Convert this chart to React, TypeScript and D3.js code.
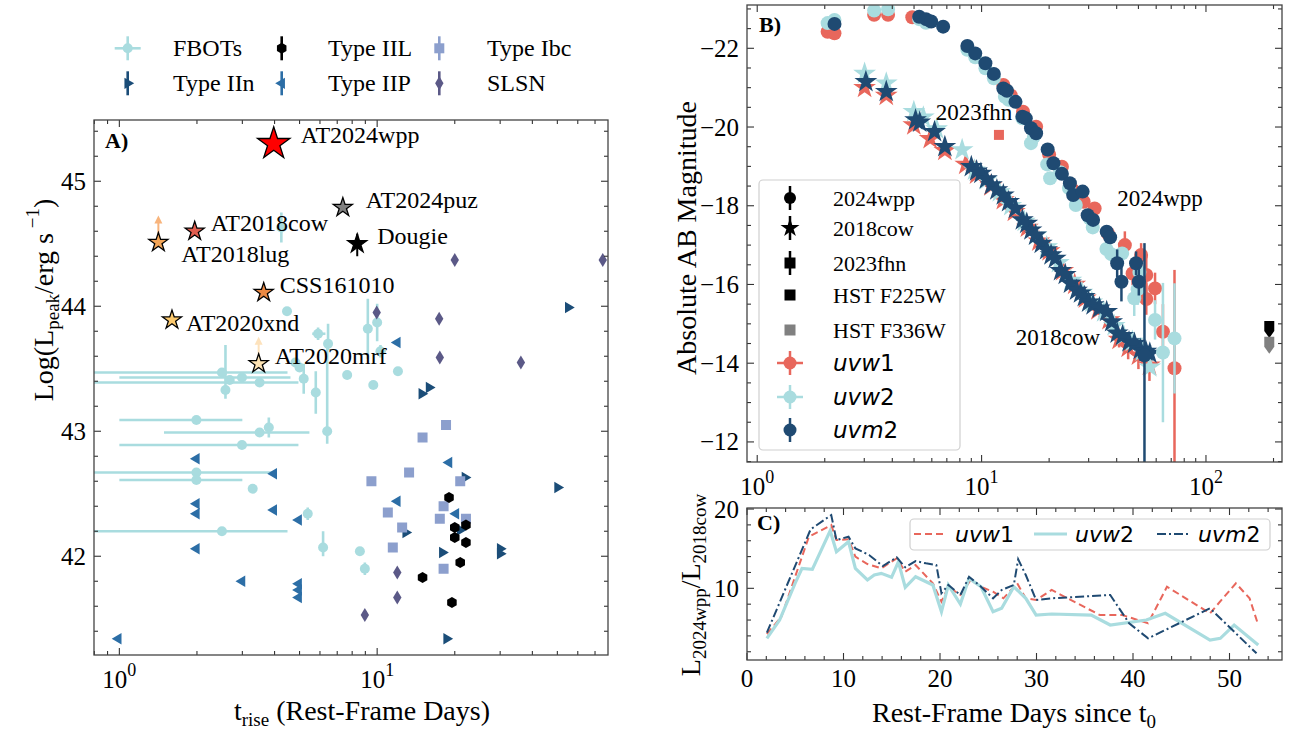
import React from "react";
import * as d3 from "d3";

// ================= Panel A data: peak luminosity vs rise time =================
const fbotT = [4.25, 4.47, 10.0, 9.2, 6.45, 5.9, 10.3, 4.82, 5.0, 2.5, 2.68, 2.99, 3.5, 2.58, 5.19, 5.78, 7.65, 9.66, 12.04, 6.4, 1.99, 3.5, 3.8, 2.99, 1.99, 1.99, 3.29, 5.38, 2.5, 6.17, 8.57, 8.96];
const fbotL = [44.63, 43.96, 43.87, 43.82, 43.70, 43.78, 43.64, 43.55, 43.51, 43.47, 43.41, 43.43, 43.39, 43.33, 43.42, 43.31, 43.45, 43.37, 43.48, 43.00, 43.09, 42.99, 43.03, 42.89, 42.67, 42.61, 42.54, 42.34, 42.20, 42.07, 42.04, 41.90];
const fbotTLo = [null, null, null, null, null, 5.6, 9.9, null, null, 0.5, null, 1.0, 0.5, null, null, null, null, null, null, null, 1.0, 1.49, null, 1.0, 0.5, 1.0, null, null, 0.5, null, null, null];
const fbotTHi = [null, null, null, null, null, 6.3, 10.8, null, null, 4.49, null, 4.61, 4.95, null, null, null, null, null, null, null, 3.0, 5.46, null, 4.95, 4.03, 3.0, null, null, 4.49, null, null, null];
const fbotLDn = [0.12, 0, 0.15, 0.24, 0.05, 0.05, 0.05, 0, 0, 0, 0, 0, 0, 0.07, 0.12, 0.17, 0, 0, 0, 0.1, 0, 0, 0.08, 0, 0, 0, 0, 0.05, 0, 0.07, 0, 0.05];
const fbotLUp = [0.12, 0, 0.15, 0.24, 0.16, 0.05, 0.05, 0, 0, 0, 0, 0, 0, 0.36, 0.12, 0.17, 0, 0, 0, 0.71, 0, 0, 0.08, 0, 0, 0, 0, 0.05, 0, 0.13, 0, 0.05];

const iipT = [1.99, 3.97, 1.99, 1.99, 3.97, 4.96, 1.99, 2.99, 4.96, 4.96, 4.96, 0.99, 11.97, 19.0, 20.2, 11.97];
const iipL = [42.78, 42.66, 42.42, 42.34, 42.37, 42.29, 42.06, 41.80, 41.78, 41.73, 41.67, 41.34, 42.44, 42.75, 42.34, 43.71];

const iinT = [55.1, 15.9, 14.9, 21.9, 50.1, 12.9, 17.9, 30.0, 30.0, 18.6, 21.0];
const iinL = [43.99, 43.35, 43.30, 42.63, 42.55, 42.19, 42.03, 42.06, 42.02, 41.34, 42.21];

const ibcT = [18.5, 15.0, 13.3, 9.5, 21.0, 18.1, 11.0, 17.5, 22.1, 12.5, 11.5, 18.1];
const ibcL = [43.05, 42.95, 42.67, 42.60, 42.60, 42.40, 42.35, 42.30, 42.30, 42.23, 42.07, 41.90];

const iilT = [21.0, 19.0, 20.0, 22.1, 20.0, 22.1, 15.0, 19.5];
const iilL = [41.95, 42.47, 42.23, 42.25, 42.15, 42.11, 41.83, 41.63];

const slsnT = [20.0, 75.0, 9.96, 17.4, 17.5, 36.1, 11.97, 11.97, 8.96];
const slsnL = [44.37, 44.37, 43.95, 43.90, 43.59, 43.55, 41.87, 41.67, 41.53];

const namedNames = ["AT2024puz", "AT2018cow", "AT2018lug", "Dougie", "CSS161010", "AT2020xnd", "AT2020mrf", "AT2024wpp"];
const namedT = [7.36, 1.96, 1.417, 8.37, 3.63, 1.60, 3.47, 3.97];
const namedL = [44.79, 44.60, 44.51, 44.50, 44.11, 43.89, 43.54, 45.30];
const namedLowerLimit = [false, false, true, false, false, false, true, false];

const legendA = ["FBOTs", "Type IIn", "Type IIL", "Type IIP", "Type Ibc", "SLSN"];

// ================= Panel B data: UV light curves =================
const wppW1T = [2.06, 2.21, 3.32, 3.83, 4.91, 12.5, 13.5, 15.3, 17.5, 20.0, 22.8, 25.5, 28.5, 31.9, 36.5, 43.5, 47.1, 51.4, 54.2, 54.2, 59.3, 64.3, 72.4];
const wppW1 = [-22.42, -22.38, -22.85, -22.85, -22.79, -21.07, -20.80, -20.39, -20.01, -19.30, -18.99, -18.40, -18.10, -17.93, -17.30, -17.00, -16.28, -16.75, -16.24, -15.63, -15.90, -14.80, -13.87];
const wppW1Err = [0, 0, 0, 0, 0, 0, 0, 0, 0, 0, 0, 0, 0, 0.1, 0.15, 0.35, 0.3, 0.3, 0.5, 0.4, 0.4, 0.7, 2.5];

const wppW2T = [2.06, 2.21, 3.32, 3.83, 5.27, 5.65, 8.64, 9.37, 10.4, 11.34, 12.7, 13.2, 15.2, 16.6, 17.1, 19.6, 20.2, 22.4, 24.5, 26.3, 30.3, 31.3, 36.0, 37.8, 42.3, 47.9, 49.6, 50.5, 59.3, 64.3, 72.4];
const wppW2 = [-22.64, -22.72, -22.96, -22.99, -22.74, -22.65, -21.96, -21.77, -21.49, -21.24, -20.77, -20.69, -20.22, -19.59, -19.75, -19.05, -18.70, -18.85, -18.45, -18.02, -17.68, -17.45, -16.90, -16.77, -16.79, -15.65, -15.88, -16.32, -15.10, -14.27, -14.63];
const wppW2Err = [0, 0, 0, 0, 0, 0, 0, 0, 0, 0, 0, 0, 0, 0, 0, 0, 0, 0, 0, 0, 0, 0, 0, 0.1, 0.15, 0.45, 0.4, 0.3, 0.5, 1.77, 1.4];

const wppM2T = [2.21, 5.27, 5.65, 5.96, 6.74, 8.64, 9.37, 10.4, 11.34, 12.5, 12.97, 14.16, 15.2, 15.74, 16.6, 17.5, 19.7, 20.9, 22.8, 24.75, 25.6, 28.2, 29.7, 31.4, 36.1, 37.4, 40.2, 42.0, 48.8, 50.2, 53.2];
const wppM2 = [-22.62, -22.80, -22.74, -22.68, -22.55, -22.06, -21.87, -21.62, -21.35, -20.98, -20.92, -20.64, -20.26, -20.22, -19.97, -19.84, -19.43, -19.08, -18.81, -18.57, -18.27, -18.36, -17.76, -17.64, -17.34, -17.20, -16.54, -16.07, -16.54, -16.07, -14.20];
const wppM2Err = [0, 0, 0, 0, 0, 0, 0, 0, 0, 0, 0, 0, 0, 0, 0, 0, 0, 0, 0, 0, 0, 0, 0, 0, 0, 0.15, 0.35, 0.5, 0.3, 0.35, 2.85];

const cowW1T = [3.01, 3.76, 4.99, 5.9, 6.86, 8.5, 9.5, 11.0, 12.5, 14.0, 16.0, 18.0, 20.0, 23.0, 26.0, 29.0, 33.0, 37.0, 41.0, 45.0, 50.0, 56.0];
const cowW1 = [-21.00, -20.80, -20.05, -19.70, -19.40, -19.05, -18.80, -18.50, -18.15, -17.85, -17.45, -17.10, -16.85, -16.35, -16.00, -15.65, -15.35, -15.10, -14.60, -14.40, -14.20, -13.95];
const cowW1Err = [0, 0, 0, 0, 0, 0, 0, 0, 0, 0, 0, 0, 0, 0, 0, 0, 0, 0, 0.2, 0.3, 0.35, 0.4];

const cowW2T = [3.01, 3.76, 4.99, 5.5, 6.3, 8.19, 9.3, 10.5, 12.0, 13.5, 15.5, 17.5, 19.5, 22.0, 25.0, 28.0, 31.0, 35.0, 39.0, 43.0, 47.0, 52.0, 56.2];
const cowW2 = [-21.36, -21.11, -20.39, -20.25, -19.95, -19.42, -18.90, -18.65, -18.35, -18.00, -17.60, -17.25, -16.95, -16.55, -16.10, -15.80, -15.55, -15.30, -14.95, -14.70, -14.55, -14.30, -13.90];

const cowM2T = [3.05, 3.76, 5.08, 5.3, 6.17, 6.86, 9.0, 9.5, 9.93, 10.5, 11.06, 11.7, 12.5, 13.2, 14.16, 15.2, 15.9, 16.6, 17.4, 18.45, 19.5, 20.4, 21.3, 22.5, 23.6, 24.9, 26.5, 27.6, 28.7, 30.0, 31.4, 33.5, 36.1, 38.0, 40.2, 42.5, 45.4, 48.0, 51.0, 54.0, 56.2];
const cowM2 = [-21.15, -20.90, -20.18, -20.12, -19.88, -19.50, -18.99, -18.88, -18.82, -18.68, -18.53, -18.40, -18.27, -18.10, -17.93, -17.64, -17.55, -17.38, -17.25, -17.04, -16.88, -16.75, -16.66, -16.35, -16.25, -16.03, -15.85, -15.78, -15.69, -15.55, -15.48, -15.40, -15.31, -15.05, -14.76, -14.70, -14.54, -14.50, -14.35, -14.30, -14.25];

const fhnT = [11.95];
const fhnMag = [-19.80];

const hstT = [191.5, 191.5];
const hstMag = [-14.87, -14.47];

const legendB = ["2024wpp", "2018cow", "2023fhn", "HST F225W", "HST F336W", "uvw1", "uvw2", "uvm2"];

// ================= Panel C data: luminosity ratio =================
const ratioW1Day = [2.06, 3.56, 6.41, 8.73, 9.27, 10.52, 11.23, 12.48, 13.91, 15.51, 16.40, 17.47, 19.26, 20.15, 20.86, 22.11, 23.18, 24.25, 25.50, 26.57, 28.0, 28.89, 29.96, 31.57, 36.57, 38.88, 41.56, 43.52, 47.98, 50.66, 52.08, 52.98];
const ratioW1 = [4.24, 6.4, 16.5, 17.98, 16.09, 16.18, 13.99, 13.06, 12.52, 13.78, 12.09, 12.94, 10.63, 8.31, 10.2, 9.16, 11.05, 10.2, 9.57, 8.74, 10.63, 8.74, 8.53, 9.79, 6.63, 6.63, 5.59, 10.2, 6.85, 10.63, 8.74, 5.37];

const ratioW2Day = [2.06, 3.38, 4.98, 5.70, 6.77, 8.62, 9.27, 10.52, 11.23, 12.48, 13.19, 13.91, 14.98, 15.69, 16.40, 17.47, 19.26, 20.15, 20.86, 22.11, 23.01, 24.25, 25.50, 26.39, 27.65, 28.89, 29.96, 31.57, 35.67, 37.64, 41.38, 43.34, 47.98, 49.05, 50.48, 52.98];
const ratioW2 = [3.69, 6.0, 10.63, 12.52, 12.39, 17.26, 14.62, 15.88, 12.52, 11.05, 11.68, 11.89, 11.39, 13.35, 10.13, 11.46, 10.42, 7.05, 10.42, 8.02, 11.26, 10.2, 7.05, 7.48, 10.2, 8.74, 6.63, 6.76, 6.63, 5.37, 6.0, 6.85, 3.48, 3.69, 5.37, 2.85];

const ratioM2Day = [2.06, 6.59, 8.73, 9.27, 10.52, 11.23, 12.65, 14.08, 15.51, 16.40, 17.47, 18.55, 19.62, 20.15, 20.86, 22.11, 23.01, 24.25, 25.50, 26.39, 27.65, 28.1, 28.89, 29.96, 31.57, 37.64, 39.6, 41.56, 47.98, 52.8];
const ratioM2 = [4.4, 17.44, 19.24, 16.09, 16.51, 15.04, 14.2, 12.81, 13.91, 12.65, 13.44, 13.15, 12.94, 9.37, 10.42, 9.16, 11.46, 10.2, 8.74, 9.79, 10.42, 13.66, 11.68, 8.53, 8.74, 9.16, 5.59, 3.69, 7.48, 1.8];

const legendC = ["uvw1", "uvw2", "uvm2"];

// ================= styling =================
const SERIF = "'Liberation Serif', 'Times New Roman', serif";
const MATH = "'DejaVu Sans', sans-serif";
const C_FBOT = "#a9dcdf";
const C_IIN = "#1b4d78";
const C_IIP = "#2c6ea6";
const C_IBC = "#8c9fcd";
const C_IIL = "#000000";
const C_SLSN = "#5b5987";
const C_W1 = "#e8675c";
const C_W2 = "#a9dcdf";
const C_M2 = "#1f4a72";
const namedColors: Record<string, string> = {
  AT2024wpp: "#ff0000",
  AT2024puz: "#808080",
  AT2018cow: "#e15d4f",
  AT2018lug: "#f5a658",
  Dougie: "#000000",
  CSS161010: "#eb8944",
  AT2020xnd: "#fbc96e",
  AT2020mrf: "#fde3b4",
};
const arrowColors: Record<string, string> = { AT2018lug: "#f8b47c", AT2020mrf: "#fde2bc" };
const namedLabelOffset: Record<string, [number, number]> = {
  AT2024wpp: [27, -1],
  AT2024puz: [23, 0],
  AT2018cow: [16, 0],
  AT2018lug: [23, 19],
  Dougie: [20, 0],
  CSS161010: [16, 0],
  AT2020xnd: [14, 11],
  AT2020mrf: [16, 0],
};

// ================= scales =================
const boxA = { x0: 94, x1: 608, y0: 120, y1: 655 };
const boxB = { x0: 747, x1: 1282, y0: 5, y1: 462 };
const boxC = { x0: 747, x1: 1282, y0: 508, y1: 660 };

const xA = d3.scaleLog().domain([0.7974, 78.6]).range([boxA.x0, boxA.x1]);
const yA = d3.scaleLinear().domain([41.21, 45.49]).range([boxA.y1, boxA.y0]);
const xB = d3.scaleLog().domain([0.9005, 218.2]).range([boxB.x0, boxB.x1]);
const yB = d3.scaleLinear().domain([-23.1, -11.49]).range([boxB.y0, boxB.y1]);
const xC = d3.scaleLinear().domain([0, 55.44]).range([boxC.x0, boxC.x1]);
const yC = d3.scaleLinear().domain([0.96, 20.13]).range([boxC.y1, boxC.y0]);

// ================= marker shapes =================
function starPath(cx: number, cy: number, R: number) {
  const r = R * 0.382;
  const pts: string[] = [];
  for (let i = 0; i < 10; i++) {
    const a = -Math.PI / 2 + (i * Math.PI) / 5;
    const rr = i % 2 === 0 ? R : r;
    pts.push(`${(cx + rr * Math.cos(a)).toFixed(2)},${(cy + rr * Math.sin(a)).toFixed(2)}`);
  }
  return "M" + pts.join("L") + "Z";
}
function hexPath(cx: number, cy: number, r: number) {
  const pts: string[] = [];
  for (let i = 0; i < 6; i++) {
    const a = -Math.PI / 2 + (i * Math.PI) / 3;
    pts.push(`${(cx + r * Math.cos(a)).toFixed(2)},${(cy + r * Math.sin(a)).toFixed(2)}`);
  }
  return "M" + pts.join("L") + "Z";
}
function triPath(cx: number, cy: number, r: number, dir: number) {
  const h = r * 0.866;
  return `M${cx + dir * r},${cy}L${cx - (dir * r) / 2},${cy - h}L${cx - (dir * r) / 2},${cy + h}Z`;
}
function diamondPath(cx: number, cy: number, w: number, h: number) {
  return `M${cx},${cy - h}L${cx + w},${cy}L${cx},${cy + h}L${cx - w},${cy}Z`;
}
function downArrowSquare(cx: number, cy: number, s: number) {
  return `M${cx - s / 2},${cy - s / 2}L${cx + s / 2},${cy - s / 2}L${cx + s / 2},${cy + s / 2}L${cx},${cy + s * 1.2}L${cx - s / 2},${cy + s / 2}Z`;
}

// ================= ticks =================
type Tick = { v: number; major: boolean };
function logTicks(lo: number, hi: number): Tick[] {
  const out: Tick[] = [];
  for (let e = -1; e <= 3; e++) {
    for (let k = 1; k <= 9; k++) {
      const v = k * Math.pow(10, e);
      if (v >= lo && v <= hi) out.push({ v, major: k === 1 });
    }
  }
  return out;
}
function linTicks(lo: number, hi: number, minorStep: number, majorStep: number): Tick[] {
  const out: Tick[] = [];
  const start = Math.ceil(lo / minorStep - 1e-9);
  const end = Math.floor(hi / minorStep + 1e-9);
  for (let i = start; i <= end; i++) {
    const v = +(i * minorStep).toFixed(6);
    const m = Math.abs(v / majorStep - Math.round(v / majorStep)) < 1e-6;
    out.push({ v, major: m });
  }
  return out;
}

function Frame({ box, xs, ys, xScale, yScale }: any) {
  const els: any[] = [];
  xs.forEach((t: Tick, i: number) => {
    const x = xScale(t.v);
    const L = t.major ? 7 : 4;
    els.push(<line key={"xb" + i} x1={x} x2={x} y1={box.y1} y2={box.y1 - L} />);
    els.push(<line key={"xt" + i} x1={x} x2={x} y1={box.y0} y2={box.y0 + L} />);
  });
  ys.forEach((t: Tick, i: number) => {
    const y = yScale(t.v);
    const L = t.major ? 7 : 4;
    els.push(<line key={"yl" + i} x1={box.x0} x2={box.x0 + L} y1={y} y2={y} />);
    els.push(<line key={"yr" + i} x1={box.x1} x2={box.x1 - L} y1={y} y2={y} />);
  });
  return (
    <g stroke="#333" strokeWidth={1.1}>
      {els}
      <rect x={box.x0} y={box.y0} width={box.x1 - box.x0} height={box.y1 - box.y0} fill="none" stroke="#444" strokeWidth={1.3} />
    </g>
  );
}

function Pow10Label({ x, y, e }: { x: number; y: number; e: number }) {
  return (
    <text x={x} y={y} textAnchor="middle" fontFamily={SERIF} fontSize={25} fill="#000">
      <tspan>10</tspan>
      <tspan dy={-12} fontSize={18}>{e}</tspan>
    </text>
  );
}

function MathLabel({ x, y, name, size, anchor }: any) {
  const letters = name.slice(0, 3);
  const digit = name.slice(3);
  return (
    <text x={x} y={y} fontFamily={MATH} fontSize={size} textAnchor={anchor || "start"} fill="#000">
      <tspan fontStyle="italic">{letters}</tspan>
      <tspan>{digit}</tspan>
    </text>
  );
}

// ================= Panel A =================
function PanelA() {
  const xt = logTicks(0.7974, 78.6);
  const yt = linTicks(41.21, 45.49, 0.2, 1);
  const eb = 2.6;
  return (
    <g>
      <defs>
        <clipPath id="clipA">
          <rect x={boxA.x0} y={boxA.y0} width={boxA.x1 - boxA.x0} height={boxA.y1 - boxA.y0} />
        </clipPath>
      </defs>
      <g clipPath="url(#clipA)">
        {fbotT.map((t, i) => {
          const cx = xA(t);
          const cy = yA(fbotL[i]);
          return (
            <g key={"fb" + i} stroke={C_FBOT} strokeWidth={eb}>
              {fbotTLo[i] != null && <line x1={xA(fbotTLo[i] as number)} x2={xA(fbotTHi[i] as number)} y1={cy} y2={cy} />}
              {(fbotLUp[i] > 0 || fbotLDn[i] > 0) && <line x1={cx} x2={cx} y1={yA(fbotL[i] + fbotLUp[i])} y2={yA(fbotL[i] - fbotLDn[i])} />}
              <circle cx={cx} cy={cy} r={5} fill={C_FBOT} stroke="none" />
            </g>
          );
        })}
        {iipT.map((t, i) => (
          <path key={"iip" + i} d={triPath(xA(t), yA(iipL[i]), 6.5, -1)} fill={C_IIP} />
        ))}
        {iinT.map((t, i) => (
          <path key={"iin" + i} d={triPath(xA(t), yA(iinL[i]), 6.5, 1)} fill={C_IIN} />
        ))}
        {ibcT.map((t, i) => (
          <rect key={"ibc" + i} x={xA(t) - 5} y={yA(ibcL[i]) - 5} width={10} height={10} fill={C_IBC} />
        ))}
        {iilT.map((t, i) => (
          <path key={"iil" + i} d={hexPath(xA(t), yA(iilL[i]), 5.5)} fill={C_IIL} />
        ))}
        {slsnT.map((t, i) => (
          <path key={"sl" + i} d={diamondPath(xA(t), yA(slsnL[i]), 4.2, 7)} fill={C_SLSN} />
        ))}
        {namedNames.map((n, i) => {
          const cx = xA(namedT[i]);
          const cy = yA(namedL[i]);
          const R = n === "AT2024wpp" ? 17 : 10;
          return (
            <g key={"nm" + i}>
              {namedLowerLimit[i] && (
                <g stroke={arrowColors[n]} fill={arrowColors[n]} strokeWidth={2}>
                  <line x1={cx} x2={cx} y1={cy - 8} y2={cy - 22} />
                  <path d={`M${cx - 4},${cy - 19}L${cx + 4},${cy - 19}L${cx},${cy - 27}Z`} stroke="none" />
                </g>
              )}
              {n === "Dougie" && <line x1={cx} x2={cx} y1={yA(namedL[i] + 0.08)} y2={yA(namedL[i] - 0.1)} stroke="#000" strokeWidth={2} />}
              <path d={starPath(cx, cy, R)} fill={namedColors[n]} stroke="#000" strokeWidth={1.3} />
            </g>
          );
        })}
      </g>
      {namedNames.map((n, i) => (
        <text
          key={"nl" + i}
          x={xA(namedT[i]) + namedLabelOffset[n][0]}
          y={yA(namedL[i]) + namedLabelOffset[n][1]}
          fontFamily={SERIF}
          fontSize={24}
          fill="#000"
        >
          {n}
        </text>
      ))}
      <Frame box={boxA} xs={xt} ys={yt} xScale={xA} yScale={yA} />
      <text x={105} y={148} fontFamily={SERIF} fontSize={22} fontWeight="bold">A)</text>
      <Pow10Label x={xA(1)} y={688} e={0} />
      <Pow10Label x={xA(10)} y={688} e={1} />
      {[42, 43, 44, 45].map((v) => (
        <text key={"ya" + v} x={boxA.x0 - 8} y={yA(v) + 8.5} textAnchor="end" fontFamily={SERIF} fontSize={25}>
          {v}
        </text>
      ))}
      <text x={362} y={720} textAnchor="middle" fontFamily={SERIF} fontSize={28}>
        <tspan>t</tspan>
        <tspan fontSize={19} dy={6}>rise</tspan>
        <tspan dy={-6}> (Rest-Frame Days)</tspan>
      </text>
      <text transform="translate(53,300) rotate(-90)" textAnchor="middle" fontFamily={SERIF} fontSize={28}>
        <tspan>Log(L</tspan>
        <tspan fontSize={19} dy={6}>peak</tspan>
        <tspan dy={-6}>/erg s</tspan>
        <tspan fontSize={19} dy={-14}> −1</tspan>
        <tspan dy={14}>)</tspan>
      </text>
      <LegendA />
    </g>
  );
}

function LegendA() {
  const cols = [127.7, 281.7, 439.3];
  const textX = [173, 328, 487];
  const rows = [48.3, 83.3];
  const items = legendA.map((name, i) => ({ name, col: Math.floor(i / 2), row: i % 2 }));
  return (
    <g>
      {items.map((it, i) => {
        const cx = cols[it.col];
        const cy = rows[it.row];
        let marker: any = null;
        if (it.name === "FBOTs") {
          marker = (
            <g stroke={C_FBOT} strokeWidth={2.6}>
              <line x1={cx - 13} x2={cx + 13} y1={cy} y2={cy} />
              <line x1={cx} x2={cx} y1={cy - 12} y2={cy + 12} />
              <circle cx={cx} cy={cy} r={5} fill={C_FBOT} stroke="none" />
            </g>
          );
        } else {
          const col: Record<string, string> = { "Type IIn": C_IIN, "Type IIL": C_IIL, "Type IIP": C_IIP, "Type Ibc": C_IBC, SLSN: C_SLSN };
          const c = col[it.name];
          let shape: any;
          if (it.name === "Type IIn") shape = <path d={triPath(cx, cy, 6.5, 1)} fill={c} />;
          else if (it.name === "Type IIP") shape = <path d={triPath(cx, cy, 6.5, -1)} fill={c} />;
          else if (it.name === "Type IIL") shape = <path d={hexPath(cx, cy, 5.5)} fill={c} />;
          else if (it.name === "Type Ibc") shape = <rect x={cx - 5} y={cy - 5} width={10} height={10} fill={c} />;
          else shape = <path d={diamondPath(cx, cy, 4.2, 7)} fill={c} />;
          marker = (
            <g>
              <line x1={cx} x2={cx} y1={cy - 12} y2={cy + 12} stroke={c} strokeWidth={2.6} />
              {shape}
            </g>
          );
        }
        return (
          <g key={"la" + i}>
            {marker}
            <text x={textX[it.col]} y={cy + 8} fontFamily={SERIF} fontSize={24}>
              {it.name}
            </text>
          </g>
        );
      })}
    </g>
  );
}

// ================= Panel B =================
function Circles({ ts, ms, errs, color, r }: any) {
  return (
    <g>
      {ts.map((t: number, i: number) => {
        const cx = xB(t);
        const cy = yB(ms[i]);
        return (
          <g key={i}>
            {errs[i] > 0 && <line x1={cx} x2={cx} y1={yB(ms[i] - errs[i])} y2={yB(ms[i] + errs[i])} stroke={color} strokeWidth={2.5} />}
            <circle cx={cx} cy={cy} r={r} fill={color} />
          </g>
        );
      })}
    </g>
  );
}
function Stars({ ts, ms, errs, color, R }: any) {
  return (
    <g>
      {ts.map((t: number, i: number) => {
        const cx = xB(t);
        const cy = yB(ms[i]);
        return (
          <g key={i}>
            {errs && errs[i] > 0 && <line x1={cx} x2={cx} y1={yB(ms[i] - errs[i])} y2={yB(ms[i] + errs[i])} stroke={color} strokeWidth={2.5} />}
            <path d={starPath(cx, cy, R)} fill={color} />
          </g>
        );
      })}
    </g>
  );
}

function PanelB() {
  const xt = logTicks(0.9005, 218.2);
  const yt = linTicks(-23.1, -11.49, 0.5, 2);
  return (
    <g>
      <defs>
        <clipPath id="clipB">
          <rect x={boxB.x0} y={boxB.y0} width={boxB.x1 - boxB.x0} height={boxB.y1 - boxB.y0} />
        </clipPath>
      </defs>
      <g clipPath="url(#clipB)">
        <Stars ts={cowW1T} ms={cowW1} errs={cowW1Err} color={C_W1} R={12} />
        <Stars ts={cowW2T} ms={cowW2} color={C_W2} R={12} />
        <Stars ts={cowM2T} ms={cowM2} color={C_M2} R={12} />
        <Circles ts={wppW1T} ms={wppW1} errs={wppW1Err} color={C_W1} r={7} />
        <Circles ts={wppW2T} ms={wppW2} errs={wppW2Err} color={C_W2} r={7} />
        <Circles ts={wppM2T} ms={wppM2} errs={wppM2Err} color={C_M2} r={7} />
        {fhnT.map((t, i) => (
          <rect key={"fhn" + i} x={xB(t) - 5} y={yB(fhnMag[i]) - 5} width={10} height={10} fill={C_W1} />
        ))}
        {hstT.map((t, i) => (
          <path key={"hst" + i} d={downArrowSquare(xB(t), yB(hstMag[i]) - 3, 10)} fill={i === 0 ? "#000" : "#808080"} />
        ))}
      </g>
      <text x={974} y={120} textAnchor="middle" fontFamily={SERIF} fontSize={23}>2023fhn</text>
      <text x={1160} y={206} textAnchor="middle" fontFamily={SERIF} fontSize={23}>2024wpp</text>
      <text x={1058} y={345} textAnchor="middle" fontFamily={SERIF} fontSize={23}>2018cow</text>
      <LegendB />
      <Frame box={boxB} xs={xt} ys={yt} xScale={xB} yScale={yB} />
      <text x={759} y={32} fontFamily={SERIF} fontSize={22} fontWeight="bold">B)</text>
      <Pow10Label x={xB(1)} y={495} e={0} />
      <Pow10Label x={xB(10)} y={495} e={1} />
      <Pow10Label x={xB(100)} y={495} e={2} />
      {[-22, -20, -18, -16, -14, -12].map((v) => (
        <text key={"yb" + v} x={boxB.x0 - 8} y={yB(v) + 8.5} textAnchor="end" fontFamily={SERIF} fontSize={25}>
          {"\u2212" + Math.abs(v)}
        </text>
      ))}
      <text transform="translate(696,238) rotate(-90)" textAnchor="middle" fontFamily={SERIF} fontSize={28}>
        Absolute AB Magnitude
      </text>
    </g>
  );
}

function LegendB() {
  const ys = [198, 228, 263, 295, 330, 363, 397, 430];
  const mx = 790;
  const tx = 833;
  return (
    <g>
      <rect x={759} y={180} width={201} height={270} rx={4} fill="#fff" fillOpacity={0.85} stroke="#cfcfcf" strokeWidth={1.2} />
      {legendB.map((name, i) => {
        const cy = ys[i];
        let marker: any;
        if (name === "2024wpp") {
          marker = (
            <g>
              <line x1={mx} x2={mx} y1={cy - 12} y2={cy + 12} stroke="#000" strokeWidth={2.5} />
              <circle cx={mx} cy={cy} r={6} fill="#000" />
            </g>
          );
        } else if (name === "2018cow") {
          marker = (
            <g>
              <line x1={mx} x2={mx} y1={cy - 12} y2={cy + 12} stroke="#000" strokeWidth={2.5} />
              <path d={starPath(mx, cy, 10)} fill="#000" />
            </g>
          );
        } else if (name === "2023fhn") {
          marker = (
            <g>
              <line x1={mx} x2={mx} y1={cy - 12} y2={cy + 12} stroke="#000" strokeWidth={2.5} />
              <rect x={mx - 5.5} y={cy - 5.5} width={11} height={11} fill="#000" />
            </g>
          );
        } else if (name.startsWith("HST")) {
          marker = <rect x={mx - 5.5} y={cy - 5.5} width={11} height={11} fill={name === "HST F225W" ? "#000" : "#808080"} />;
        } else {
          const c = name === "uvw1" ? C_W1 : name === "uvw2" ? C_W2 : C_M2;
          marker = (
            <g stroke={c} strokeWidth={2.5}>
              {name !== "uvm2" && <line x1={mx - 13} x2={mx + 13} y1={cy} y2={cy} />}
              <line x1={mx} x2={mx} y1={cy - 12} y2={cy + 12} />
              <circle cx={mx} cy={cy} r={6.5} fill={c} stroke="none" />
            </g>
          );
        }
        const isMath = name.startsWith("uv");
        return (
          <g key={"lb" + i}>
            {marker}
            {isMath ? (
              <MathLabel x={tx} y={cy + 8} name={name} size={23} />
            ) : (
              <text x={tx} y={cy + 7.5} fontFamily={SERIF} fontSize={22}>
                {name}
              </text>
            )}
          </g>
        );
      })}
    </g>
  );
}

// ================= Panel C =================
function PanelC() {
  const xt = linTicks(0, 55.44, 2, 10);
  const yt = linTicks(0.96, 20.13, 2, 10);
  const line = (ds: number[], vs: number[]) =>
    d3
      .line<number>()
      .x((d, i) => xC(ds[i]))
      .y((d, i) => yC(vs[i]))(ds) as string;
  return (
    <g>
      <defs>
        <clipPath id="clipC">
          <rect x={boxC.x0} y={boxC.y0} width={boxC.x1 - boxC.x0} height={boxC.y1 - boxC.y0} />
        </clipPath>
      </defs>
      <g clipPath="url(#clipC)" fill="none">
        <path d={line(ratioW1Day, ratioW1)} stroke={C_W1} strokeWidth={2} strokeDasharray="7,4" />
        <path d={line(ratioW2Day, ratioW2)} stroke={C_W2} strokeWidth={3.2} />
        <path d={line(ratioM2Day, ratioM2)} stroke={C_M2} strokeWidth={2} strokeDasharray="9,3,2,3" />
      </g>
      <LegendC />
      <Frame box={boxC} xs={xt} ys={yt} xScale={xC} yScale={yC} />
      <text x={757} y={530} fontFamily={SERIF} fontSize={22} fontWeight="bold">C)</text>
      {[0, 10, 20, 30, 40, 50].map((v) => (
        <text key={"xc" + v} x={xC(v)} y={687} textAnchor="middle" fontFamily={SERIF} fontSize={25}>
          {v}
        </text>
      ))}
      {[10, 20].map((v) => (
        <text key={"yc" + v} x={boxC.x0 - 8} y={yC(v) + 8.5} textAnchor="end" fontFamily={SERIF} fontSize={25}>
          {v}
        </text>
      ))}
      <text x={1014} y={722} textAnchor="middle" fontFamily={SERIF} fontSize={28}>
        <tspan>Rest-Frame Days since t</tspan>
        <tspan fontSize={19} dy={6}>0</tspan>
      </text>
      <text transform="translate(700,585) rotate(-90)" textAnchor="middle" fontFamily={SERIF} fontSize={28}>
        <tspan>L</tspan>
        <tspan fontSize={19} dy={6}>2024wpp</tspan>
        <tspan dy={-6}>/L</tspan>
        <tspan fontSize={19} dy={6}>2018cow</tspan>
      </text>
    </g>
  );
}

function LegendC() {
  const x0s = [914, 1034, 1157];
  const cy = 534;
  const styles = [
    { c: C_W1, w: 2, dash: "7,4" },
    { c: C_W2, w: 3.2, dash: "" },
    { c: C_M2, w: 2, dash: "9,3,2,3" },
  ];
  return (
    <g>
      <rect x={910} y={519} width={360} height={31} rx={4} fill="#fff" fillOpacity={0.85} stroke="#cfcfcf" strokeWidth={1.2} />
      {legendC.map((name, i) => (
        <g key={"lc" + i}>
          <line x1={x0s[i]} x2={x0s[i] + 33} y1={cy} y2={cy} stroke={styles[i].c} strokeWidth={styles[i].w} strokeDasharray={styles[i].dash || undefined} />
          <MathLabel x={x0s[i] + 41} y={cy + 8} name={name} size={22} />
        </g>
      ))}
    </g>
  );
}

export default function App() {
  return (
    <div style={{ position: "fixed", left: 0, top: 0, width: 1291, height: 732, background: "#fff" }}>
      <svg width={1291} height={732} viewBox="0 0 1291 732" style={{ display: "block" }}>
        <rect x={0} y={0} width={1291} height={732} fill="#fff" />
        <PanelA />
        <PanelB />
        <PanelC />
      </svg>
    </div>
  );
}
